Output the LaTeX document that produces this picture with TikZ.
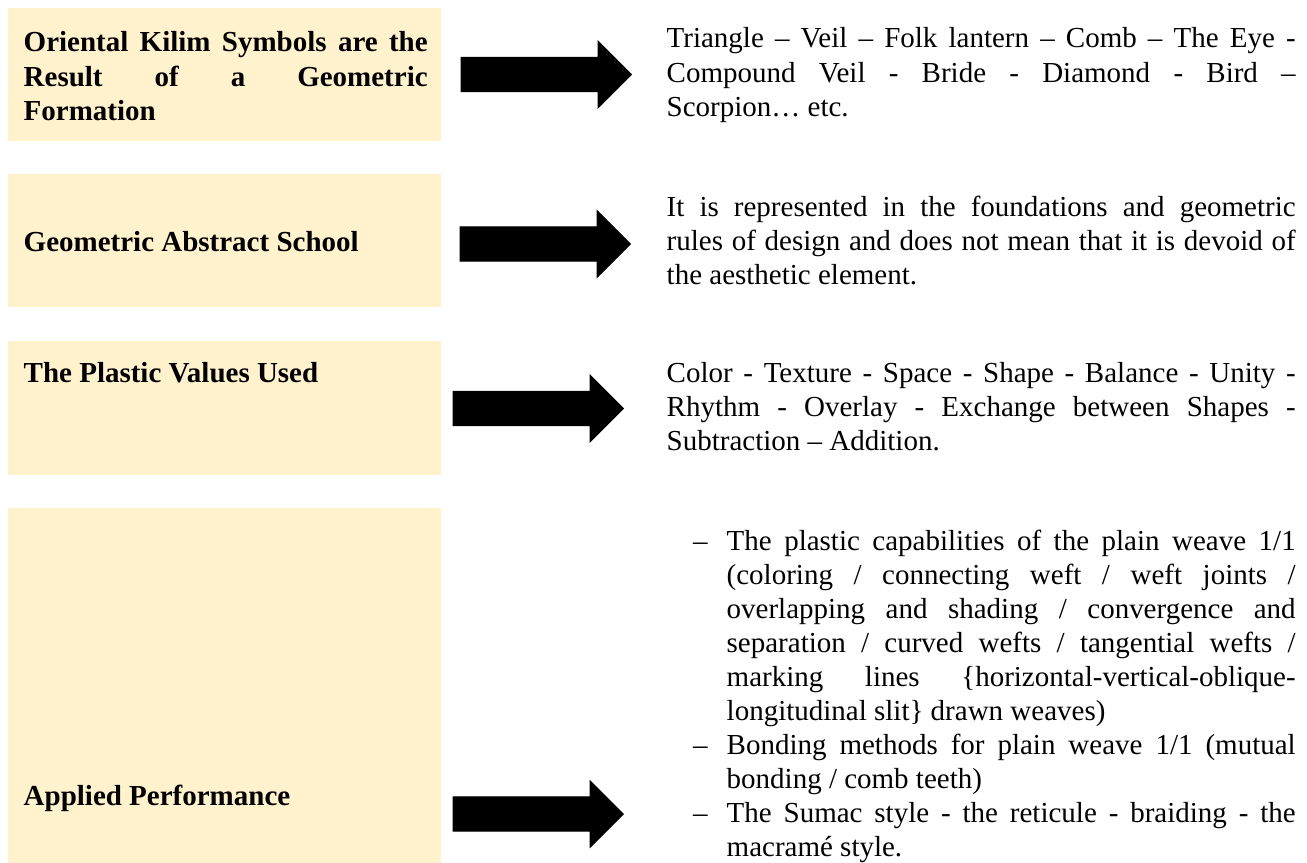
\documentclass[tikz,border=0pt]{standalone}
\usepackage{fontspec}
\setmainfont{Liberation Serif}
\usetikzlibrary{shapes.arrows}
\definecolor{boxfill}{HTML}{FFF2CC}
\newcommand{\jline}[2][6.29cm]{\makebox[#1][s]{\spaceskip=0.25em plus 1fil minus 0.08em\relax #2}}
\newcommand{\dashitem}{\leavevmode\llap{–\hspace{0.19cm}}}

\begin{document}
\begin{tikzpicture}[
  txt/.style={anchor=base west, inner sep=0pt, align=justify, font=\fontsize{8.25pt}{9.68pt}\selectfont},
  lefttxt/.style={txt, font=\fontsize{8.25pt}{9.68pt}\selectfont\bfseries, text width=4.04cm},
  righttxt/.style={txt, text width=6.29cm},
  blockarrow/.style={single arrow, fill=black, draw=black, line width=0.3pt, anchor=tip,
    minimum height=1.70cm, inner xsep=0pt, inner ysep=0.165cm, single arrow head extend=0.16cm}
]
\useasboundingbox (0,0) rectangle (13.07,-8.63);

\fill[boxfill] (0.08,-0.08) rectangle (4.41,-1.41);
\fill[boxfill] (0.08,-1.74) rectangle (4.41,-3.07);
\fill[boxfill] (0.08,-3.41) rectangle (4.41,-4.75);
\fill[boxfill] (0.08,-5.08) rectangle (4.41,-8.70);

% left column
\node[lefttxt] (symbols) at (0.23,-0.52) {\jline[4.04cm]{Oriental Kilim Symbols are the}\\
  \jline[4.04cm]{Result of a Geometric}\\
  Formation};
\node[lefttxt] (school) at (0.23,-2.51) {Geometric Abstract School};
\node[lefttxt] (values) at (0.23,-3.82) {The Plastic Values Used};
\node[lefttxt] (applied) at (0.23,-8.05) {Applied Performance};

% right column
\node[righttxt] (symlist) at (6.66,-0.48) {\jline{Triangle – Veil – Folk lantern – Comb – The Eye -}\\
  \jline{Compound Veil - Bride - Diamond - Bird –}\\
  Scorpion… etc.};
\node[righttxt] (schooltxt) at (6.66,-2.16) {\jline{It is represented in the foundations and geometric}\\
  \jline{rules of design and does not mean that it is devoid of}\\
  the aesthetic element.};
\node[righttxt] (valuelist) at (6.66,-3.82) {\jline{Color - Texture - Space - Shape - Balance - Unity -}\\
  \jline{Rhythm - Overlay - Exchange between Shapes -}\\
  Subtraction – Addition.};
\node[txt, text width=5.69cm] (appliedlist) at (7.26,-5.50) {\dashitem\jline[5.69cm]{The plastic capabilities of the plain weave 1/1}\\
  \jline[5.69cm]{(coloring / connecting weft / weft joints /}\\
  \jline[5.69cm]{overlapping and shading / convergence and}\\
  \jline[5.69cm]{separation / curved wefts / tangential wefts /}\\
  \jline[5.69cm]{marking lines \{horizontal-vertical-oblique-}\\
  longitudinal slit\} drawn weaves)\\
  \dashitem\jline[5.69cm]{Bonding methods for plain weave 1/1 (mutual}\\
  bonding / comb teeth)\\
  \dashitem\jline[5.69cm]{The Sumac style - the reticule - braiding - the}\\
  macramé style.};

% arrows
\node[blockarrow] (arr1) at (6.32,-0.745) {};
\node[blockarrow] (arr2) at (6.31,-2.44) {};
\node[blockarrow] (arr3) at (6.24,-4.085) {};
\node[blockarrow] (arr4) at (6.24,-8.14) {};
\end{tikzpicture}
\end{document}
